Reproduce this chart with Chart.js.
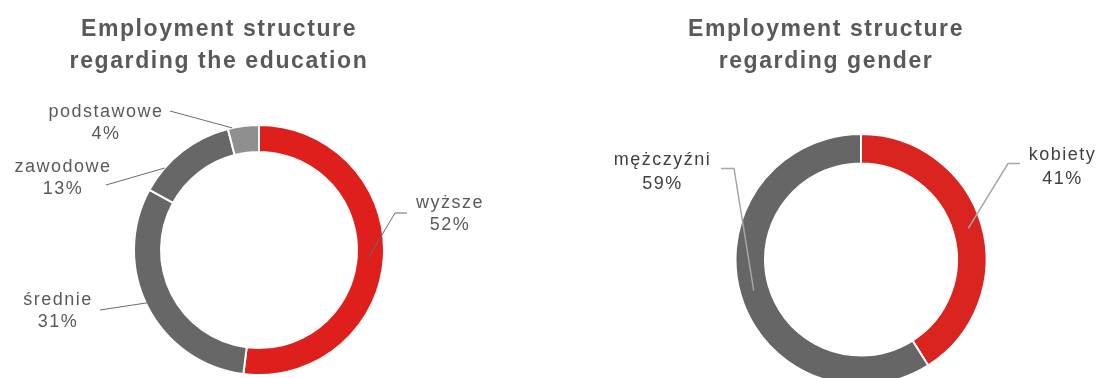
<!DOCTYPE html>
<html>
<head>
<meta charset="utf-8">
<script src="https://cdn.jsdelivr.net/npm/chart.js@4"></script>
<style>
  html, body { margin: 0; padding: 0; background: #fff; overflow: hidden; }
  #wrap { position: relative; width: 1101px; height: 378px; }
  canvas { position: absolute; top: 0; }
  #eduChart { filter: blur(0.3px); }
  .title {
    position: absolute; top: 12px; width: 400px; text-align: center;
    font: bold 23px "Liberation Sans", Arial, sans-serif; line-height: 32px;
    letter-spacing: 1.6px; color: #595959;
  }
</style>
</head>
<body>
<div id="wrap">
  <canvas id="eduChart" width="550" height="378" style="left:0"></canvas>
  <canvas id="genderChart" width="551" height="378" style="left:550px"></canvas>
  <div class="title" style="left:19px">Employment structure<br>regarding the education</div>
  <div class="title" style="left:626px">Employment structure<br>regarding gender</div>
</div>
<script>
const eduLabels = ['wyższe', 'średnie', 'zawodowe', 'podstawowe'];
const eduValues = [52, 31, 13, 4];
const eduColors = ['#de1f1c', '#676767', '#676767', '#8f8f8f'];

const genderLabels = ['kobiety', 'mężczyźni'];
const genderValues = [41, 59];
const genderColors = ['#da2420', '#666666'];

// where each label sits: text / line / elbow are offsets from the ring centre,
// at (along the slice) and r (share of outer radius) place the end of the line
const calloutLayout = {
    eduChart: [
        { text: [191, -42], line: [148, -37], elbow: [136, -37], at: 0.5, r: 0.88 },
        { text: [-201, 55], line: [-159, 60], at: 0.5, r: 0.9 },
        { text: [-196, -78], line: [-153, -65], at: 0.26, r: 1.0 },
        { text: [-153, -133], line: [-89, -139], at: 0.14, r: 1.0 }
    ],
    genderChart: [
        { text: [201.5, -100], line: [159, -96], elbow: [147, -96], at: 0.5, r: 0.89 },
        { text: [-198.5, -95], line: [-140, -91], elbow: [-127, -91], at: 0.5, r: 0.89 }
    ]
};

// labels outside the ring with a leader line to the slice
const callouts = {
    id: 'callouts',
    afterDatasetsDraw(chart, args, opts) {
        const ctx = chart.ctx;
        const items = calloutLayout[chart.canvas.id];
        const values = chart.data.datasets[0].data;
        chart.getDatasetMeta(0).data.forEach((arc, i) => {
            const c = items[i];
            const p = arc.getProps(['x', 'y', 'startAngle', 'endAngle', 'outerRadius'], true);
            const a = p.startAngle + (p.endAngle - p.startAngle) * c.at;
            const r = p.outerRadius * c.r;

            ctx.save();
            ctx.strokeStyle = opts.lineColor;
            ctx.lineWidth = opts.lineWidth;
            ctx.beginPath();
            ctx.moveTo(p.x + c.line[0], p.y + c.line[1]);
            if (c.elbow)
                ctx.lineTo(p.x + c.elbow[0], p.y + c.elbow[1]);
            ctx.lineTo(p.x + Math.cos(a) * r, p.y + Math.sin(a) * r);
            ctx.stroke();

            ctx.fillStyle = opts.color;
            ctx.font = opts.font;
            ctx.letterSpacing = opts.spacing;
            ctx.textAlign = 'center';
            ctx.textBaseline = 'alphabetic';
            ctx.fillText(chart.data.labels[i], p.x + c.text[0], p.y + c.text[1]);
            ctx.fillText(values[i] + '%', p.x + c.text[0], p.y + c.text[1] + opts.lineHeight);
            ctx.restore();
        });
    }
};

function ringChart(id, labels, values, colors, radius, cutout, padding, calloutOpts)
{
    return new Chart(document.getElementById(id), {
        type: 'doughnut',
        data: {
            labels: labels,
            datasets: [{
                data: values,
                backgroundColor: colors,
                borderColor: '#ffffff',
                borderWidth: 2,
                clip: false
            }]
        },
        options: {
            responsive: false,
            animation: false,
            devicePixelRatio: 1,
            radius: radius,
            cutout: cutout,
            layout: { padding: padding },
            plugins: {
                legend: { display: false },
                tooltip: { enabled: false },
                title: { display: false },
                callouts: calloutOpts
            }
        },
        plugins: [callouts]
    });
}

ringChart('eduChart', eduLabels, eduValues, eduColors, 125, '78.4%',
    { left: 134, right: 166, top: 125, bottom: 3 },
    {
        font: '18px "Liberation Sans", Arial, sans-serif',
        spacing: '1.5px',
        color: '#5a5a5a',
        lineColor: '#6b6b6b',
        lineWidth: 1,
        lineHeight: 22
    });

ringChart('genderChart', genderLabels, genderValues, genderColors, 125.5, '76.5%',
    { left: 186, right: 115, top: 141, bottom: 0 },
    {
        font: '18px "Liberation Sans", Arial, sans-serif',
        spacing: '1.5px',
        color: '#404040',
        lineColor: '#a6a6a6',
        lineWidth: 1.5,
        lineHeight: 24
    });
</script>
</body>
</html>
